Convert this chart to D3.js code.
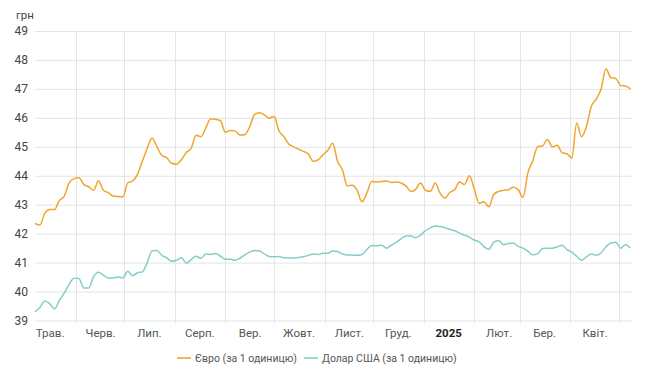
<!DOCTYPE html>
<html>
<head>
<meta charset="utf-8">
<script src="https://cdn.jsdelivr.net/npm/d3@7"></script>
<style>
  body { margin: 0; background: #fff; }
  text { font-family: Roboto, "Noto Sans", sans-serif; }
</style>
</head>
<body>
<script>

MARGIN = ({top: 31, right: 18, bottom: 63, left: 35});
WIDTH = 650;
HEIGHT = 384;

// one reading every 3 days, starting 7 May 2024
START = "2024-05-07";
END = "2025-05-09";
STEP = 3;

var eurValues = [
  42.35, 42.3, 42.7, 42.83, 42.83, 43.15, 43.3, 43.75, 43.9, 43.93,
  43.7, 43.62, 43.5, 43.83, 43.5, 43.42, 43.3, 43.28, 43.27, 43.75,
  43.82, 44.05, 44.5, 44.95, 45.3, 45.0, 44.7, 44.62, 44.43, 44.4,
  44.55, 44.8, 44.95, 45.4, 45.35, 45.65, 45.97, 45.95, 45.9, 45.5,
  45.56, 45.55, 45.41, 45.42, 45.7, 46.12, 46.18, 46.1, 45.99, 46.05,
  45.55, 45.35, 45.1, 45.0, 44.92, 44.84, 44.75, 44.5, 44.55, 44.72,
  44.88, 45.12, 44.5, 44.2, 43.65, 43.67, 43.5, 43.1, 43.4, 43.8,
  43.78, 43.8, 43.82, 43.77, 43.78, 43.75, 43.65, 43.46, 43.53, 43.75,
  43.5, 43.46, 43.75, 43.4, 43.23, 43.42, 43.52, 43.78, 43.7, 44.0,
  43.55, 43.05, 43.1, 42.93, 43.35, 43.46, 43.5, 43.52, 43.6, 43.52,
  43.25, 44.1, 44.52, 45.0, 45.03, 45.25, 45.0, 45.05, 44.8, 44.76,
  44.61, 45.82, 45.35, 45.7, 46.4, 46.65, 47.0, 47.7, 47.39, 47.36,
  47.12, 47.1, 47.0
];

var usdValues = [
  39.3, 39.45, 39.67, 39.58, 39.4, 39.7, 39.95, 40.25, 40.46, 40.45,
  40.12, 40.12, 40.52, 40.67, 40.57, 40.47, 40.47, 40.5, 40.47, 40.7,
  40.55, 40.65, 40.68, 41.0, 41.41, 41.42, 41.25, 41.16, 41.05, 41.08,
  41.17, 40.98, 41.1, 41.22, 41.15, 41.3, 41.28, 41.31, 41.22, 41.12,
  41.12, 41.08, 41.15, 41.27, 41.36, 41.42, 41.4, 41.3, 41.21, 41.2,
  41.21, 41.17, 41.16, 41.16, 41.18, 41.2, 41.25, 41.3, 41.28, 41.32,
  41.32, 41.4, 41.38, 41.3, 41.26, 41.26, 41.25, 41.28, 41.45, 41.59,
  41.58, 41.6, 41.5, 41.6, 41.7, 41.82, 41.92, 41.92, 41.86, 41.95,
  42.1, 42.2, 42.26, 42.25, 42.2, 42.15, 42.1, 42.02, 41.95, 41.88,
  41.78, 41.72, 41.55, 41.46, 41.7, 41.76, 41.62, 41.66, 41.68, 41.56,
  41.5, 41.4, 41.27, 41.3, 41.49, 41.5, 41.5, 41.54, 41.6, 41.45,
  41.36, 41.22, 41.08, 41.2, 41.3, 41.25, 41.34, 41.55, 41.68, 41.7,
  41.5, 41.62, 41.5
];

var yTicks = [39, 40, 41, 42, 43, 44, 45, 46, 47, 48, 49];
var monthLabels = ["Трав.", "Черв.", "Лип.", "Серп.", "Вер.", "Жовт.",
                   "Лист.", "Груд.", "2025", "Лют.", "Бер.", "Квіт."];
var seriesNames = ["Євро (за 1 одиницю)", "Долар США (за 1 одиницю)"];
var COLORS = ["#f0a52c", "#86cdc8"];

var parse = d3.timeParse("%Y-%m-%d");
var start = parse(START);
var dates = eurValues.map((v, i) => d3.timeDay.offset(start, i * STEP));

var x = d3.scaleTime()
    .domain([start, parse(END)])
    .range([MARGIN.left, WIDTH - MARGIN.right]);

var y = d3.scaleLinear()
    .domain([39, 49])
    .range([HEIGHT - MARGIN.bottom - 0.5, MARGIN.top]);

var svg = d3.select("body").append("svg")
    .attr("width", WIDTH)
    .attr("height", HEIGHT);

// month start grid lines
var monthStarts = d3.timeMonth.range(parse("2024-06-01"), parse("2025-05-02"));
svg.append("g")
    .selectAll("line")
    .data(monthStarts)
    .enter().append("line")
      .attr("x1", d => Math.round(x(d)) + 0.5)
      .attr("x2", d => Math.round(x(d)) + 0.5)
      .attr("y1", y(49))
      .attr("y2", y(39) + 3)
      .attr("stroke", "#e6e6e6");

// y axis with horizontal grid
svg.append("g")
    .attr("transform", `translate(${MARGIN.left},0)`)
    .call(d3.axisLeft(y).tickValues(yTicks).tickSize(-(WIDTH - MARGIN.left - MARGIN.right)).tickPadding(7))
    .call(g => g.select(".domain").remove())
    .call(g => g.selectAll(".tick line").attr("stroke", "#e4e4e4"))
    .call(g => g.selectAll(".tick text")
        .attr("fill", "#444")
        .attr("font-size", "12px")
        .style("font-family", "Roboto, sans-serif"));

svg.append("text")
    .attr("x", 16)
    .attr("y", 19)
    .attr("fill", "#444")
    .attr("font-size", "11.5px")
    .text("грн");

// month labels at mid month
var midMonths = d3.timeMonth.range(parse("2024-05-01"), parse("2025-05-01"))
    .map(d => d3.timeDay.offset(d, 15));
svg.append("g")
    .attr("transform", `translate(0,${HEIGHT - MARGIN.bottom})`)
    .call(d3.axisBottom(x).tickValues(midMonths).tickSize(0).tickPadding(8)
        .tickFormat((d, i) => monthLabels[i]))
    .call(g => g.select(".domain").remove())
    .call(g => g.selectAll(".tick text")
        .attr("fill", (d, i) => monthLabels[i] == "2025" ? "#222" : "#555")
        .attr("font-weight", (d, i) => monthLabels[i] == "2025" ? "bold" : "normal")
        .attr("font-size", "11.5px")
        .style("font-family", "Roboto, sans-serif"));

var line = d3.line()
    .x(d => x(d[0]))
    .y(d => y(d[1]))
    .curve(d3.curveMonotoneX);

[eurValues, usdValues].forEach(function(vals, k) {
    svg.append("path")
        .datum(vals.map((v, i) => [dates[i], v]))
        .attr("fill", "none")
        .attr("stroke", COLORS[k])
        .attr("stroke-width", 1.5)
        .attr("stroke-linejoin", "round")
        .attr("d", line);
});

// legend
var legendX = [177, 304];
var legend = svg.append("g")
    .selectAll("g")
    .data(seriesNames)
    .enter().append("g")
      .attr("transform", (d, i) => `translate(${legendX[i]},358)`);

legend.append("line")
    .attr("x1", 0)
    .attr("x2", 14)
    .attr("stroke", (d, i) => COLORS[i])
    .attr("stroke-width", 1.6);

legend.append("text")
    .attr("x", 18)
    .attr("dy", "0.35em")
    .attr("fill", "#555")
    .attr("font-size", "10.5px")
    .text(d => d);

</script>
</body>
</html>
